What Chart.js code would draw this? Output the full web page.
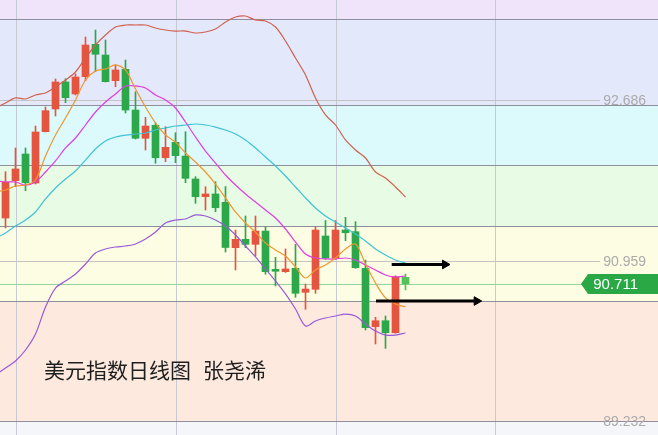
<!DOCTYPE html>
<html>
<head>
<meta charset="utf-8">
<script src="https://cdn.jsdelivr.net/npm/chart.js@4.4.0/dist/chart.umd.min.js"></script>
<style>
  html, body { margin: 0; padding: 0; background: #fff; }
  canvas { display: block; }
</style>
</head>
<body>
<canvas id="grafica" width="658" height="435"></canvas>
<script>
// velas diarias del indice del dolar (indice 0 = primera vela visible)
const open = [91.421, 91.823, 92.110, 91.798, 92.350, 92.594, 92.885, 92.756, 92.942, 93.290, 93.175, 92.899, 93.021, 92.583, 92.279, 92.419, 92.070, 92.236, 92.088, 91.841, 91.651, 91.680, 91.590, 91.102, 91.192, 91.138, 91.281, 90.869, 90.844, 90.880, 90.622, 90.654, 91.228, 90.988, 91.292, 91.274, 90.880, 90.252, 90.316, 90.187, 90.783];
const high = [91.920, 92.175, 92.175, 92.411, 92.616, 92.917, 92.920, 92.971, 93.369, 93.444, 93.337, 93.068, 93.121, 92.780, 92.505, 92.444, 92.404, 92.339, 92.350, 91.866, 91.758, 91.812, 91.760, 91.292, 91.443, 91.443, 91.328, 90.998, 91.088, 91.138, 90.711, 91.324, 91.394, 91.394, 91.429, 91.382, 90.969, 90.353, 90.367, 90.800, 90.819];
const low = [91.314, 91.758, 91.715, 91.787, 92.347, 92.519, 92.662, 92.745, 92.899, 92.996, 92.885, 92.834, 92.551, 92.271, 92.153, 92.010, 92.027, 92.016, 91.801, 91.579, 91.507, 91.489, 91.055, 90.862, 91.102, 91.012, 90.816, 90.690, 90.835, 90.568, 90.439, 90.611, 90.975, 90.975, 91.177, 90.880, 90.216, 90.066, 90.019, 90.181, 90.647];
const close = [91.809, 91.949, 91.801, 92.347, 92.576, 92.885, 92.716, 92.938, 93.283, 93.183, 92.888, 93.014, 92.583, 92.279, 92.411, 92.070, 92.182, 92.092, 91.848, 91.651, 91.680, 91.532, 91.104, 91.192, 91.138, 91.281, 90.844, 90.848, 90.873, 90.611, 90.657, 91.292, 90.988, 91.292, 91.263, 90.887, 90.241, 90.316, 90.187, 90.790, 90.711];

// lineas: empiezan una vela antes (indice -1)
const upperBand = [92.605, 92.659, 92.713, 92.702, 92.745, 92.766, 92.831, 92.906, 92.992, 93.143, 93.283, 93.390, 93.476, 93.498, 93.498, 93.498, 93.466, 93.444, 93.433, 93.433, 93.412, 93.423, 93.455, 93.530, 93.584, 93.595, 93.552, 93.541, 93.476, 93.326, 93.143, 92.960, 92.713, 92.530, 92.422, 92.261, 92.153, 92.067, 91.916, 91.852, 91.755, 91.647];
const ma5 = [91.701, 91.723, 91.766, 91.776, 91.830, 92.088, 92.314, 92.497, 92.691, 92.906, 93.003, 93.025, 93.068, 93.014, 92.809, 92.616, 92.444, 92.314, 92.239, 92.121, 92.024, 91.916, 91.787, 91.637, 91.486, 91.368, 91.271, 91.152, 91.077, 91.012, 90.894, 90.776, 90.862, 90.916, 90.991, 91.088, 91.142, 90.926, 90.722, 90.561, 90.496, 90.464];
const ma10 = [91.819, 91.809, 91.809, 91.776, 91.809, 91.916, 92.035, 92.175, 92.282, 92.422, 92.562, 92.669, 92.756, 92.842, 92.842, 92.820, 92.745, 92.691, 92.605, 92.454, 92.293, 92.142, 92.013, 91.884, 91.776, 91.680, 91.593, 91.507, 91.421, 91.303, 91.163, 91.034, 90.991, 90.980, 90.980, 90.991, 90.969, 90.916, 90.862, 90.808, 90.786, 90.797];
const midBand = [91.206, 91.260, 91.335, 91.400, 91.486, 91.626, 91.744, 91.841, 91.927, 92.045, 92.164, 92.250, 92.293, 92.314, 92.325, 92.336, 92.368, 92.390, 92.411, 92.422, 92.433, 92.422, 92.400, 92.368, 92.325, 92.261, 92.175, 92.078, 91.981, 91.873, 91.755, 91.637, 91.529, 91.443, 91.378, 91.314, 91.249, 91.174, 91.088, 91.023, 90.969, 90.937];
const lowerBand = [89.732, 89.807, 89.883, 90.001, 90.173, 90.464, 90.668, 90.743, 90.819, 90.926, 91.045, 91.088, 91.109, 91.120, 91.142, 91.195, 91.271, 91.368, 91.400, 91.411, 91.454, 91.443, 91.400, 91.335, 91.238, 91.120, 91.002, 90.873, 90.743, 90.604, 90.442, 90.259, 90.313, 90.345, 90.367, 90.388, 90.367, 90.281, 90.205, 90.162, 90.162, 90.184];

// niveles horizontales, etiquetas y flechas
const bandLevels = [93.563, 92.637, 91.992, 91.335, 90.528, 89.232];
const bandColors = ['#f0e4fb', '#e4e8fb', '#dcf9fb', '#e8fbe5', '#fdfde4', '#fde9de', '#f4f6fa'];
const priceLabels = [92.686, 90.959, 89.232];
const lastPrice = 90.711;
const gridDays = [1.05, 17.05, 33.05, 48.95];
const arrowLevels = [90.921, 90.528];
const arrowFrom = [38.62, 37.05];
const arrowTo = [43.95, 47.12];
const titulo = ['美元指数日线图', '张尧浠'];

const rojo = '#e5543f';
const verde = '#2ca84a';

const colores = open.map((o, i) => i === open.length - 1 ? '#55c257' : (close[i] >= o ? rojo : verde));
const velas = open.map((o, i) => ({ x: i, y: [o, close[i]] }));
const mechas = open.map((o, i) => ({ x: i, y: [low[i], high[i]] }));
const serie = arr => arr.map((v, i) => ({ x: i - 1, y: v }));

const linea = (label, data, color) => ({
    type: 'line', label, data: serie(data), borderColor: color, borderWidth: 1.2,
    pointRadius: 0, tension: 0.3, order: 1
});

const flechas = arrowLevels.map((nivel, i) => ({
    type: 'line',
    data: [{ x: arrowFrom[i], y: nivel }, { x: arrowTo[i], y: nivel }],
    borderColor: '#000', borderWidth: 3,
    pointRadius: [0, 5], pointStyle: 'triangle', pointRotation: 90,
    pointBackgroundColor: '#000', pointBorderColor: '#000', pointBorderWidth: 1,
    order: 0
}));

const fondo = {
    id: 'fondo',
    beforeDraw(chart) {
        const { ctx, chartArea: a, scales: { x, y } } = chart;
        const py = v => Math.round(y.getPixelForValue(v)) + 0.5;
        ctx.save();
        const edges = [y.max, ...bandLevels, y.min];
        for (let i = 0; i < bandColors.length; i++) {
            const top = y.getPixelForValue(edges[i]);
            const bottom = y.getPixelForValue(edges[i + 1]);
            ctx.fillStyle = bandColors[i];
            ctx.fillRect(a.left, top, a.width, bottom - top);
        }
        ctx.lineWidth = 1;
        // separadores de fechas
        ctx.strokeStyle = '#c8c9d6';
        gridDays.forEach(d => {
            const px = Math.round(x.getPixelForValue(d)) + 0.5;
            ctx.beginPath(); ctx.moveTo(px, a.top); ctx.lineTo(px, a.bottom); ctx.stroke();
        });
        // lineas de las etiquetas
        ctx.strokeStyle = '#c4c4c4';
        priceLabels.forEach(v => {
            ctx.beginPath(); ctx.moveTo(a.left, py(v)); ctx.lineTo(600, py(v)); ctx.stroke();
        });
        ctx.strokeStyle = '#93d49c';
        ctx.beginPath(); ctx.moveTo(a.left, py(lastPrice)); ctx.lineTo(582, py(lastPrice)); ctx.stroke();
        // niveles
        ctx.strokeStyle = '#8e8f9a';
        bandLevels.forEach(v => {
            ctx.beginPath(); ctx.moveTo(a.left, py(v)); ctx.lineTo(a.right, py(v)); ctx.stroke();
        });
        ctx.restore();
    },
    afterDatasetsDraw(chart) {
        const { ctx, scales: { y } } = chart;
        ctx.save();
        ctx.textBaseline = 'middle';
        ctx.textAlign = 'right';
        ctx.font = '14px "Liberation Sans", Arial, sans-serif';
        ctx.fillStyle = '#ababab';
        priceLabels.forEach(v => ctx.fillText(v.toFixed(3), 646, y.getPixelForValue(v) + 1));

        const yc = y.getPixelForValue(lastPrice);
        ctx.fillStyle = '#2ba846';
        ctx.beginPath();
        ctx.moveTo(581, yc);
        ctx.lineTo(588, yc - 10);
        ctx.lineTo(658, yc - 10);
        ctx.lineTo(658, yc + 10);
        ctx.lineTo(588, yc + 10);
        ctx.closePath();
        ctx.fill();
        ctx.fillStyle = '#fff';
        ctx.font = '15px "Liberation Sans", Arial, sans-serif';
        ctx.fillText(lastPrice.toFixed(3), 638, yc + 1);

        ctx.textAlign = 'left';
        ctx.fillStyle = '#1e1e1e';
        ctx.font = '21px "Noto Sans CJK SC", sans-serif';
        ctx.fillText(titulo[0], 44, 370.5);
        ctx.fillText(titulo[1], 203, 370.5);
        ctx.restore();
    }
};

new Chart(document.getElementById('grafica'), {
    type: 'bar',
    data: {
        datasets: [
            ...flechas,
            linea('上轨', upperBand, '#d1604e'),
            linea('MA5', ma5, '#f0962e'),
            linea('MA10', ma10, '#e03ee0'),
            linea('中轨', midBand, '#3ec2d6'),
            linea('下轨', lowerBand, '#985ad8'),
            { label: 'velas', data: velas, backgroundColor: colores, barThickness: 7, grouped: false, order: 2 },
            { label: 'mechas', data: mechas, backgroundColor: colores, barThickness: 1, grouped: false, order: 3 }
        ]
    },
    options: {
        responsive: false,
        animation: false,
        layout: { padding: 0, autoPadding: false },
        plugins: { legend: { display: false }, tooltip: { enabled: false } },
        scales: {
            x: { type: 'linear', min: -0.55, max: 65.25, offset: false, display: false },
            y: { min: 89.0864, max: 93.767, display: false }
        }
    },
    plugins: [fondo]
});
</script>
</body>
</html>
